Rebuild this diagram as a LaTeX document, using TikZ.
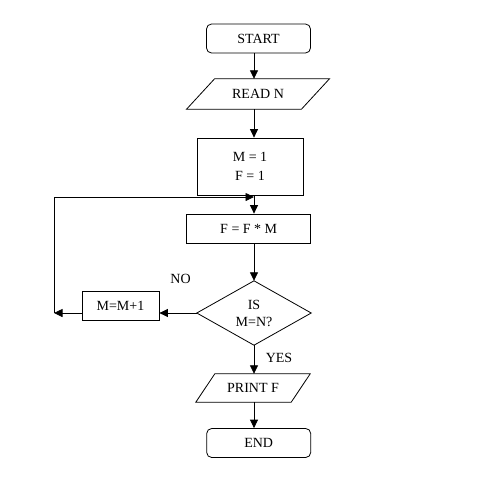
\documentclass[tikz,border=0pt]{standalone}
\usepackage{fontspec}
\setmainfont{Liberation Serif}
\usetikzlibrary{arrows.meta}
\begin{document}
\begin{tikzpicture}[x=1pt,y=-1pt,
  font=\fontsize{14}{17}\selectfont,
  every node/.style={inner sep=0pt,align=center},
  box/.style={draw,line width=0.8pt,minimum width=#1},
  term/.style={box=#1,rounded corners=5pt,minimum height=29pt},
  shapeless/.style={minimum width=#1},
  arr/.style={line width=0.8pt,-{Triangle[length=8.5pt,width=8pt]}},
  ln/.style={line width=0.8pt}]
\useasboundingbox (0,0) rectangle (500,488);
\coordinate (ax) at (254,0);
\node[term=104] (start) at (258.5,38.5) {START};
\node[shapeless=114.5,minimum height=30pt] (readn) at (258,94) {READ N};
\draw[ln] ([xshift=14pt]readn.north west) -- ([xshift=14pt]readn.north east)
  -- ([xshift=-14pt]readn.south east) -- ([xshift=-14pt]readn.south west) -- cycle;
\node[box=106,minimum height=57pt,font=\fontsize{14}{19}\selectfont] (init) at (250,166.5) {M = 1\\F = 1};
\node[box=124,minimum height=29pt] (calc) at (248.7,228.5) {F = F * M};
\node[shapeless=114,minimum height=64pt] (dec) at (254,313) {IS\\M=N?};
\draw[ln] (dec.north) -- (dec.east) -- (dec.south) -- (dec.west) -- cycle;
\node[box=77,minimum height=29pt] (inc) at (120.5,306) {M=M+1};
\node[shapeless=95,minimum height=28pt] (print) at (253,388) {PRINT F};
\draw[ln] ([xshift=9.5pt]print.north west) -- ([xshift=9.5pt]print.north east)
  -- ([xshift=-9.5pt]print.south east) -- ([xshift=-9.5pt]print.south west) -- cycle;
\node[term=104] (end) at (258.7,443) {END};
\coordinate (lc) at (54,313);
\coordinate (lt) at (54,197);
\coordinate (j) at (254,197);
\node (no) at (180.5,278.5) {NO};
\node (yes) at (279,358) {YES};
\draw[arr] (start.south -| ax) -- (readn.north -| ax);
\draw[arr] (readn.south -| ax) -- (init.north -| ax);
\draw[arr] (init.south -| ax) -- (calc.north -| ax);
\draw[arr] (calc.south -| ax) -- (dec.north);
\draw[arr] (dec.west) -- (inc.east |- dec.west);
\draw[arr] (inc.west |- dec.west) -- (lc);
\draw[arr] (lc) -- (lt) -- (j);
\draw[arr] (dec.south) -- (print.north -| ax);
\draw[arr] (print.south -| ax) -- (end.north -| ax);
\end{tikzpicture}
\end{document}
